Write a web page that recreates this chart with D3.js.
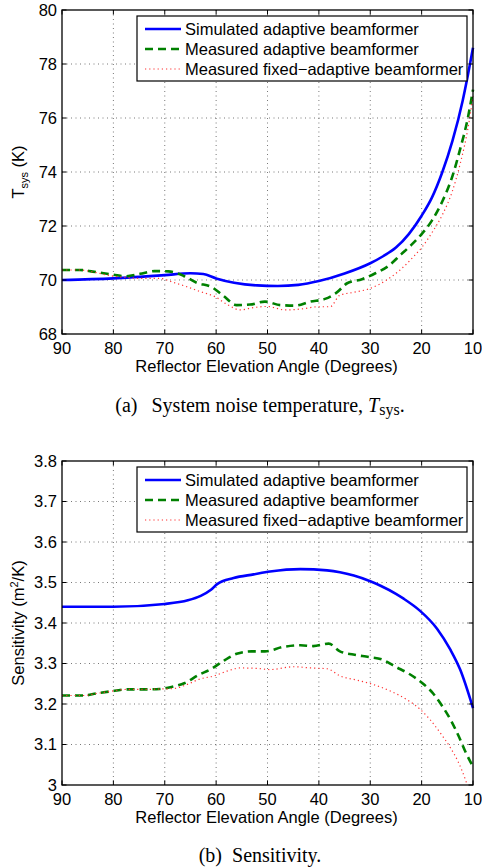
<!DOCTYPE html>
<html>
<head>
<meta charset="utf-8">
<style>
body { margin: 0; background: #fff; }
svg { display: block; }
.tick-label, .axis-label, .legend-text { font-family: "Liberation Sans", Arial, sans-serif; font-size: 16.5px; fill: #000; }
.caption { font-family: "Liberation Serif", "Times New Roman", serif; font-size: 20px; fill: #000; }
</style>
</head>
<body>
<div id="chart"></div>
<script src="https://d3js.org/d3.v7.min.js"></script>
<script>

// ---- data ----
var xTicks = [90, 80, 70, 60, 50, 40, 30, 20, 10];
var seriesNames = ["Simulated adaptive beamformer", "Measured adaptive beamformer", "Measured fixed\u2212adaptive beamformer"];

// (a) system noise temperature
var tsysTicks = [68, 70, 72, 74, 76, 78, 80];
var tsysSimAngle = [90, 80, 70, 65, 62.5, 60, 56.5, 52, 48, 44, 40, 35, 30, 27.5, 25, 22.5, 20, 18, 16, 14, 12, 11, 10];
var tsysSimValue = [70.0, 70.06, 70.18, 70.25, 70.22, 70.06, 69.9, 69.8, 69.78, 69.82, 69.96, 70.24, 70.62, 70.88, 71.2, 71.7, 72.38, 73.05, 73.98, 75.15, 76.65, 77.58, 78.6];
var tsysMeasAngle = [90, 86.5, 84, 80.5, 77.7, 74.8, 72, 69.3, 66.4, 63.8, 60.8, 58.6, 56, 53.4, 50.5, 47.5, 44.6, 41.7, 38.8, 36.5, 34.5, 31.6, 29, 26.4, 24, 22, 20, 18, 16, 14, 12.5, 11, 10];
var tsysMeasValue = [70.37, 70.37, 70.31, 70.21, 70.14, 70.23, 70.33, 70.32, 70.16, 69.9, 69.73, 69.42, 69.07, 69.09, 69.2, 69.07, 69.05, 69.2, 69.3, 69.54, 69.88, 70.03, 70.25, 70.53, 70.95, 71.3, 71.7, 72.2, 72.9, 73.85, 74.85, 76.0, 77.05];
var tsysFixAngle = [90, 86.5, 84, 80.6, 77.4, 74.2, 71, 68.3, 65.7, 63.1, 60.2, 57.9, 55.3, 52.7, 50, 46.6, 43.3, 40.1, 37.8, 35.9, 33.3, 30, 26.8, 24.2, 21.6, 20, 18, 16, 14, 12.5, 11, 10];
var tsysFixValue = [70.37, 70.37, 70.3, 70.16, 70.09, 70.06, 70.06, 69.91, 69.75, 69.57, 69.38, 69.1, 68.89, 68.98, 69.02, 68.89, 68.93, 69.01, 69.01, 69.44, 69.54, 69.69, 70.0, 70.37, 70.86, 71.2, 71.75, 72.4, 73.3, 74.3, 75.6, 76.8];

// (b) sensitivity
var sensTicks = [3, 3.1, 3.2, 3.3, 3.4, 3.5, 3.6, 3.7, 3.8];
var sensSimAngle = [90, 80, 70, 65.5, 63, 61, 59.8, 56.6, 52.7, 49.5, 43.6, 38.4, 33.2, 30, 28, 25, 23.5, 20.3, 17, 14.4, 12.5, 10];
var sensSimValue = [3.44, 3.44, 3.447, 3.456, 3.467, 3.482, 3.496, 3.511, 3.52, 3.527, 3.533, 3.53, 3.517, 3.503, 3.492, 3.472, 3.46, 3.43, 3.386, 3.334, 3.285, 3.19];
var sensMeasAngle = [90, 85.8, 83.3, 80.7, 77.4, 74.2, 71, 68.7, 66.1, 63.5, 60.9, 58.6, 56, 53.1, 50.5, 46.9, 43.6, 41.1, 38.1, 35.9, 33.3, 30.3, 27.7, 25.1, 22.5, 19.9, 17.9, 16, 14.4, 12.8, 11.4, 10];
var sensMeasValue = [3.221, 3.221, 3.226, 3.231, 3.236, 3.236, 3.237, 3.242, 3.252, 3.271, 3.287, 3.306, 3.324, 3.33, 3.33, 3.341, 3.345, 3.343, 3.349, 3.33, 3.322, 3.316, 3.31, 3.292, 3.275, 3.252, 3.228, 3.195, 3.162, 3.121, 3.08, 3.045];
var sensFixAngle = [90, 85.8, 83.3, 80.7, 77.4, 74.2, 71, 68.3, 65.7, 63.1, 60.5, 57.9, 55.3, 52.1, 49.5, 44.9, 41.6, 38.4, 35.8, 32.6, 29.4, 26.1, 22.9, 20.3, 18.4, 16.4, 14.4, 12.8, 11.5, 11.2];
var sensFixValue = [3.221, 3.221, 3.226, 3.231, 3.236, 3.236, 3.237, 3.238, 3.248, 3.262, 3.269, 3.281, 3.289, 3.288, 3.285, 3.292, 3.289, 3.287, 3.269, 3.259, 3.248, 3.232, 3.211, 3.187, 3.162, 3.129, 3.092, 3.055, 3.014, 3.003];

// ---- layout ----
var W = 482, H = 867;
var plotLeft = 62, plotRight = 473, plotH = 324;

var lineStyles = [
  {color: "#0000ff", width: 2.6, dash: null},
  {color: "#008000", width: 2.6, dash: "8,5"},
  {color: "#ff3030", width: 1.2, dash: "1.2,3"}
];

var svg = d3.select("#chart").append("svg")
    .attr("width", W)
    .attr("height", H);

function zip(a, v) {
  return a.map(function(d, i) { return {x: d, y: v[i]}; });
}

function drawPanel(top, yDomain, yTicks, series, yLabelFn, caption) {
  var x = d3.scaleLinear().domain([90, 10]).range([plotLeft, plotRight]);
  var y = d3.scaleLinear().domain(yDomain).range([top + plotH, top]);
  var g = svg.append("g");

  // grid
  var grid = g.append("g").attr("stroke", "#555").attr("stroke-width", 0.8)
      .attr("stroke-dasharray", "1,3.5");
  grid.selectAll(".gx").data(xTicks.slice(1, -1)).enter().append("line")
      .attr("x1", x).attr("x2", x).attr("y1", top).attr("y2", top + plotH);
  grid.selectAll(".gy").data(yTicks.slice(1, -1)).enter().append("line")
      .attr("x1", plotLeft).attr("x2", plotRight).attr("y1", y).attr("y2", y);

  // series
  var line = d3.line()
      .x(function(d) { return x(d.x); })
      .y(function(d) { return y(d.y); })
      .curve(d3.curveMonotoneX);
  series.forEach(function(s, i) {
    g.append("path")
        .datum(s)
        .attr("fill", "none")
        .attr("stroke", lineStyles[i].color)
        .attr("stroke-width", lineStyles[i].width)
        .attr("stroke-dasharray", lineStyles[i].dash)
        .attr("d", line);
  });

  // box with inward ticks on all sides
  g.append("rect")
      .attr("x", plotLeft).attr("y", top)
      .attr("width", plotRight - plotLeft).attr("height", plotH)
      .attr("fill", "none").attr("stroke", "#000").attr("stroke-width", 1.3);

  var tl = 4.5;
  var ticks = g.append("g").attr("stroke", "#000").attr("stroke-width", 1);
  xTicks.forEach(function(t) {
    ticks.append("line").attr("x1", x(t)).attr("x2", x(t)).attr("y1", top + plotH).attr("y2", top + plotH - tl);
    ticks.append("line").attr("x1", x(t)).attr("x2", x(t)).attr("y1", top).attr("y2", top + tl);
  });
  yTicks.forEach(function(t) {
    ticks.append("line").attr("x1", plotLeft).attr("x2", plotLeft + tl).attr("y1", y(t)).attr("y2", y(t));
    ticks.append("line").attr("x1", plotRight).attr("x2", plotRight - tl).attr("y1", y(t)).attr("y2", y(t));
  });

  // tick labels
  g.selectAll(".xt").data(xTicks).enter().append("text")
      .attr("class", "tick-label")
      .attr("x", x).attr("y", top + plotH + 20)
      .attr("text-anchor", "middle")
      .text(function(d) { return d; });
  g.selectAll(".yt").data(yTicks).enter().append("text")
      .attr("class", "tick-label")
      .attr("x", plotLeft - 5).attr("y", function(d) { return y(d) + 5.5; })
      .attr("text-anchor", "end")
      .text(function(d) { return d; });

  // axis labels
  g.append("text")
      .attr("class", "axis-label")
      .attr("x", (plotLeft + plotRight) / 2 - 1)
      .attr("y", top + plotH + 38)
      .attr("text-anchor", "middle")
      .text("Reflector Elevation Angle (Degrees)");
  var yl = g.append("text")
      .attr("class", "axis-label")
      .attr("text-anchor", "middle")
      .attr("transform", "translate(24," + (top + plotH / 2) + ") rotate(-90)");
  yLabelFn(yl);

  // legend
  var lg = g.append("g").attr("transform", "translate(137," + (top + 6) + ")");
  lg.append("rect").attr("width", 330).attr("height", 65)
      .attr("fill", "#fff").attr("stroke", "#000").attr("stroke-width", 1.2);
  seriesNames.forEach(function(name, i) {
    var ry = 13 + i * 20;
    lg.append("line")
        .attr("x1", 8).attr("x2", 44).attr("y1", ry).attr("y2", ry)
        .attr("stroke", lineStyles[i].color)
        .attr("stroke-width", lineStyles[i].width)
        .attr("stroke-dasharray", lineStyles[i].dash);
    lg.append("text").attr("class", "legend-text")
        .attr("x", 48).attr("y", ry + 6).text(name);
  });

  // caption
  caption(g);
}

drawPanel(10, [68, 80], tsysTicks,
  [zip(tsysSimAngle, tsysSimValue), zip(tsysMeasAngle, tsysMeasValue), zip(tsysFixAngle, tsysFixValue)],
  function(t) {
    t.append("tspan").text("T");
    t.append("tspan").attr("font-size", "11px").attr("dy", 4).text("sys");
    t.append("tspan").attr("dy", -4).text(" (K)");
  },
  function(g) {
    var c = g.append("text").attr("class", "caption")
        .attr("x", 260).attr("y", 412).attr("text-anchor", "middle");
    c.append("tspan").text("(a)\u2002\u2009System noise temperature, ");
    c.append("tspan").attr("font-style", "italic").text("T");
    c.append("tspan").attr("font-size", "16px").attr("dy", 3).text("sys");
    c.append("tspan").attr("dy", -3).text(".");
  });

drawPanel(461, [3, 3.8], sensTicks,
  [zip(sensSimAngle, sensSimValue), zip(sensMeasAngle, sensMeasValue), zip(sensFixAngle, sensFixValue)],
  function(t) {
    t.append("tspan").text("Sensitivity (m");
    t.append("tspan").attr("font-size", "11px").attr("dy", -6).text("2");
    t.append("tspan").attr("dy", 6).text("/K)");
  },
  function(g) {
    g.append("text").attr("class", "caption")
        .attr("x", 260).attr("y", 862).attr("text-anchor", "middle")
        .text("(b)\u2002Sensitivity.");
  });

</script>
</body>
</html>
